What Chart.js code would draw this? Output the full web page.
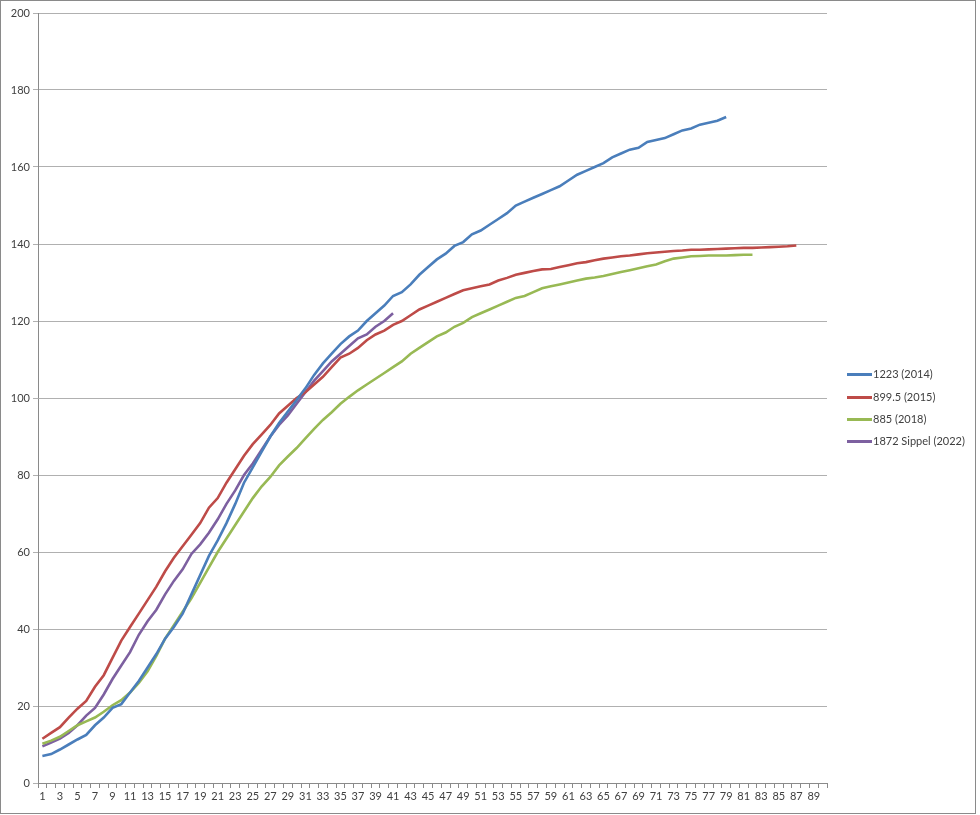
<!DOCTYPE html>
<html>
<head>
<meta charset="utf-8">
<script src="https://cdn.jsdelivr.net/npm/chart.js@4/dist/chart.umd.min.js"></script>
<style>
  html, body { margin: 0; padding: 0; background: #ffffff; }
  #wrap { position: relative; width: 980px; height: 815px; }
  #c { position: absolute; left: 0; top: 0; }
  #legend { position: absolute; left: 847px; top: 0; font-family: Lato, "Liberation Sans", sans-serif; font-size: 11px; color: #404040; }
  .item { position: absolute; left: 0; white-space: nowrap; height: 14px; line-height: 14px; }
  .sw { position: absolute; left: 0; top: 6px; width: 25px; height: 3px; }
  .tx { position: absolute; left: 26px; top: 0; }
</style>
</head>
<body>
<div id="wrap">
  <canvas id="c" width="980" height="815"></canvas>
  <div id="legend"></div>
</div>
<script>
const categories = [1,2,3,4,5,6,7,8,9,10,11,12,13,14,15,16,17,18,19,20,21,22,23,24,25,26,27,28,29,30,
  31,32,33,34,35,36,37,38,39,40,41,42,43,44,45,46,47,48,49,50,51,52,53,54,55,56,57,58,59,60,
  61,62,63,64,65,66,67,68,69,70,71,72,73,74,75,76,77,78,79,80,81,82,83,84,85,86,87,88,89,90];

const seriesNames = ["1223 (2014)", "899.5 (2015)", "885 (2018)", "1872 Sippel (2022)"];
const seriesColors = ["#4a7ebb", "#be4b48", "#98b954", "#7d60a0"];

const s2014 = [7,7.5,8.7,10,11.3,12.5,15,17,19.5,20.5,23.5,26.5,30,33.5,37.5,40.5,44,49,54,59,
  63,67.5,72.5,78,82,86,90,93.5,96.5,99.5,102.5,106,109,111.5,114,116,117.5,120,122,124,
  126.5,127.5,129.5,132,134,136,137.5,139.5,140.5,142.5,143.5,145,146.5,148,150,151,152,153,154,155,
  156.5,158,159,160,161,162.5,163.5,164.5,165,166.5,167,167.5,168.5,169.5,170,171,171.5,172,173];

const s2015 = [11.5,13,14.5,17,19.3,21.3,25,28,32.5,37,40.5,44,47.5,51,55,58.5,61.5,64.5,67.5,71.5,
  74,78,81.5,85,88,90.5,93,96,98,100,101.5,103.5,105.5,108,110.5,111.5,113,115,116.5,117.5,
  119,120,121.5,123,124,125,126,127,128,128.5,129,129.5,130.5,131.2,132,132.5,133,133.4,133.5,134,
  134.5,135,135.3,135.8,136.2,136.5,136.8,137,137.3,137.6,137.8,138,138.2,138.3,138.5,138.5,138.6,138.7,138.8,138.9,
  139,139,139.1,139.2,139.3,139.4,139.6];

const s2018 = [10.2,11,12,13.5,15,16,17,18.5,20.2,21.5,23.5,26,29,33,37.5,41,44.5,48,52,56,
  60,63.5,67,70.5,74,77,79.5,82.5,84.8,87,89.5,92,94.3,96.3,98.5,100.3,102,103.5,105,106.5,
  108,109.5,111.5,113,114.5,116,117,118.5,119.5,121,122,123,124,125,126,126.5,127.5,128.5,129,129.5,
  130,130.5,131,131.3,131.7,132.2,132.7,133.2,133.7,134.2,134.7,135.5,136.2,136.5,136.8,136.9,137,137,137,137.1,
  137.2,137.2];

const s2022 = [9.5,10.5,11.5,13,15,17.5,19.5,23,27,30.5,34,38.5,42,45,49,52.5,55.5,59.5,62,65,
  68.5,72.5,76,80,83,86.5,90,93,95.5,98.5,101.5,104.5,107,109.5,111.5,113.5,115.5,116.5,118.5,120,
  122];

const yTicks = { min: 0, max: 200, step: 20 };

const allSeries = [s2014, s2015, s2018, s2022];

const datasets = allSeries.map((d, i) => ({
  label: seriesNames[i],
  data: d,
  borderColor: seriesColors[i],
  backgroundColor: seriesColors[i],
  borderWidth: 2.6,
  pointRadius: 0,
  tension: 0,
  fill: false
}));

const framePlugin = {
  id: 'frame',
  afterDraw(chart) {
    const ctx = chart.ctx;
    ctx.save();
    ctx.strokeStyle = '#8a8a8a';
    ctx.lineWidth = 1;
    ctx.strokeRect(0.5, 0.5, 975, 813);
    ctx.restore();
  }
};

const tickFont = { family: 'Lato, "Liberation Sans", sans-serif', size: 11 };

new Chart(document.getElementById('c'), {
  type: 'line',
  data: { labels: categories, datasets },
  options: {
    responsive: false,
    animation: false,
    layout: { padding: { left: 0, top: 13, right: 153, bottom: 0 } },
    plugins: { legend: { display: false }, tooltip: { enabled: false } },
    scales: {
      x: {
        type: 'category',
        offset: true,
        grid: { offset: true, drawOnChartArea: false, drawTicks: true, tickLength: 5, color: '#8a8a8a' },
        border: { color: '#8a8a8a', width: 1 },
        ticks: {
          autoSkip: false, maxRotation: 0, minRotation: 0, padding: 2,
          color: '#404040', font: tickFont,
          callback: function(v, i) { return i % 2 === 0 ? String(categories[i]) : ''; }
        },
        afterFit(scale) { scale.height = 32; }
      },
      y: {
        min: yTicks.min, max: yTicks.max,
        grid: { color: '#b0b0b0', tickLength: 5, drawTicks: true },
        border: { color: '#8a8a8a', width: 1 },
        ticks: { stepSize: yTicks.step, color: '#404040', font: tickFont, padding: 3 },
        afterFit(scale) { scale.width = 38; }
      }
    }
  },
  plugins: [framePlugin]
});

const legendTops = [374, 397, 419, 441];
const leg = document.getElementById('legend');
seriesNames.forEach((n, i) => {
  const it = document.createElement('div');
  it.className = 'item';
  it.style.top = (legendTops[i] - 7) + 'px';
  const sw = document.createElement('div');
  sw.className = 'sw';
  sw.style.background = seriesColors[i];
  const tx = document.createElement('div');
  tx.className = 'tx';
  tx.textContent = n;
  it.appendChild(sw); it.appendChild(tx);
  leg.appendChild(it);
});
</script>
</body>
</html>
